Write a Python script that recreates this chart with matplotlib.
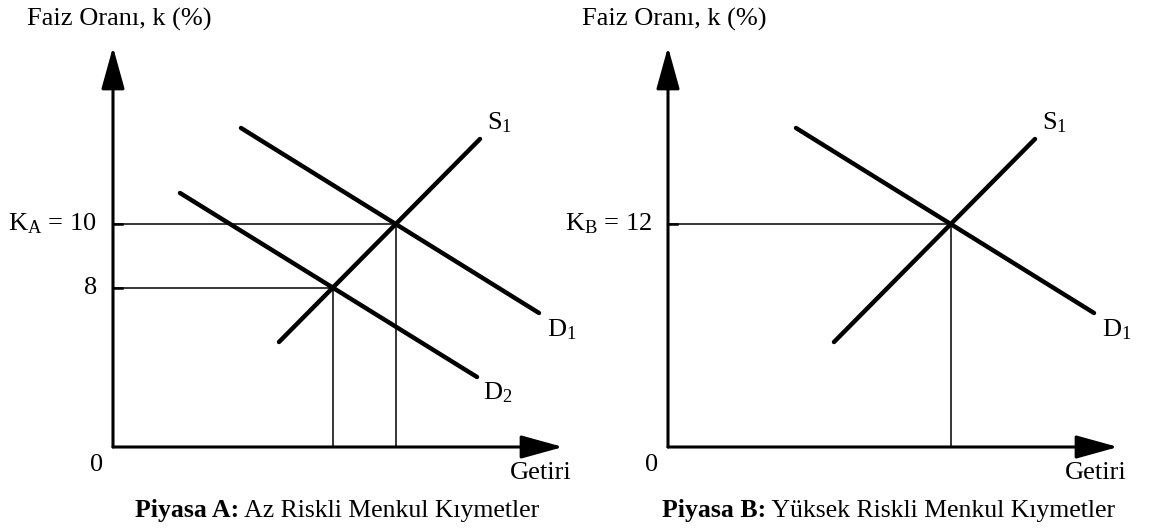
import matplotlib
matplotlib.use("Agg")
import matplotlib.pyplot as plt
import numpy as np

plt.rcParams["font.family"] = ["Liberation Serif", "DejaVu Serif"]
plt.rcParams["mathtext.fontset"] = "custom"
plt.rcParams["mathtext.rm"] = "Liberation Serif"
plt.rcParams["mathtext.it"] = "Liberation Serif:italic"
plt.rcParams["mathtext.bf"] = "Liberation Serif:bold"

# ===== DATA (schematic units) =====
s1_x = [4.15, 9.175]
s1_y = [2.625, 7.70]
d1_x = [3.20, 10.65]
d1_y = [7.975, 3.35]
d2_x = [1.675, 9.10]
d2_y = [6.35, 1.75]

rate_labels_a = [r"K$_{\mathrm{A}}$ = 10", "8"]
rate_labels_b = [r"K$_{\mathrm{B}}$ = 12"]
y_title = "Faiz Oranı, k (%)"
x_title = "Getiri"
caption_a = ("Piyasa A:", "Az Riskli Menkul Kıymetler")
caption_b = ("Piyasa B:", "Yüksek Riskli Menkul Kıymetler")

FS = 19


def intersect(ax1, ay1, bx1, by1):
    m1 = (ay1[1] - ay1[0]) / (ax1[1] - ax1[0])
    m2 = (by1[1] - by1[0]) / (bx1[1] - bx1[0])
    x = (by1[0] - ay1[0] + m1 * ax1[0] - m2 * bx1[0]) / (m1 - m2)
    return x, ay1[0] + m1 * (x - ax1[0])


def draw_panel(ax, demands, labels, caption, cap_x):
    ax.set_xlim(0, 11.5)
    ax.set_ylim(0, 10.25)
    ax.axis("off")

    # ===== AXES + ARROWS =====
    arr = dict(arrowstyle="-|>,head_length=1.3,head_width=0.36", mutation_scale=20,
               lw=2.2, color="black", shrinkA=0, shrinkB=0)
    ax.annotate("", xy=(0, 10.0), xytext=(0, 0), arrowprops=arr, annotation_clip=False)
    ax.annotate("", xy=(11.25, 0), xytext=(0, 0), arrowprops=arr, annotation_clip=False)

    ax.text(-2.15, 10.68, y_title, fontsize=FS, ha="left", va="center", clip_on=False)
    ax.text(-0.42, -0.45, "0", fontsize=FS, ha="center", va="center")
    ax.text(11.475, -0.65, x_title, fontsize=FS, ha="right", va="center")

    # ===== CAPTION (bold + normal) =====
    t_bold = ax.text(cap_x, -1.75, caption[0], fontsize=18.5, fontweight="bold",
                     ha="left", va="baseline")
    ax.annotate(" " + caption[1], xy=(1, 0), xycoords=t_bold, fontsize=18.5,
                ha="left", va="bottom")

    # ===== SUPPLY =====
    ax.plot(s1_x, s1_y, color="black", lw=3.2, solid_capstyle="round")
    ax.text(9.35, 8.1, r"S$_1$", fontsize=FS, ha="left", va="center")

    # ===== DEMAND + EQUILIBRIUM =====
    for (dx, dy, name, lx, ly), lab in zip(demands, labels):
        ax.plot(dx, dy, color="black", lw=3.2, solid_capstyle="round")
        ax.text(lx, ly, name, fontsize=FS, ha="left", va="center")
        ix, iy = intersect(s1_x, s1_y, dx, dy)
        ax.plot([0, ix], [iy, iy], color="black", lw=1.1)
        ax.plot([ix, ix], [0, iy], color="black", lw=1.1)
        ax.plot([-0.2, 0.22], [iy, iy], color="black", lw=1.8)
        ax.text(-0.4, iy, lab, fontsize=FS, ha="right", va="center")


fig = plt.figure(figsize=(11.51, 5.31), dpi=100)
ax_a = fig.add_axes([113 / 1151, 84 / 531, 460 / 1151, 410 / 531])
ax_b = fig.add_axes([668 / 1151, 84 / 531, 460 / 1151, 410 / 531])

draw_panel(ax_a,
           [(d1_x, d1_y, r"D$_1$", 10.85, 2.93),
            (d2_x, d2_y, r"D$_2$", 9.25, 1.35)],
           rate_labels_a, caption_a, 0.55)
draw_panel(ax_b,
           [(d1_x, d1_y, r"D$_1$", 10.85, 2.93)],
           rate_labels_b, caption_b, -0.15)

fig.savefig("out.png", dpi=100)
